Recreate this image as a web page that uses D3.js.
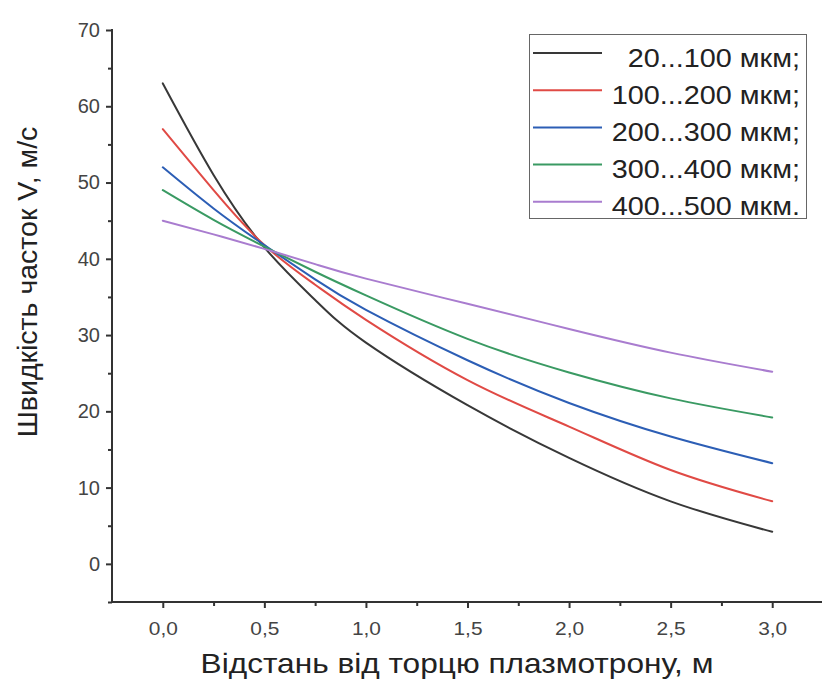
<!DOCTYPE html>
<html>
<head>
<meta charset="utf-8">
<script src="https://cdn.jsdelivr.net/npm/d3@7"></script>
<style>
  html, body { margin: 0; padding: 0; background: #fff; }
  svg { display: block; font-family: "Liberation Sans", Arial, sans-serif; }
</style>
</head>
<body>
<svg id="chart" width="822" height="682"></svg>
<script>
// Distance from the plasmatron nozzle, m
const distance = [0, 0.25, 0.5, 0.75, 1.0, 1.5, 2.0, 2.5, 3.0];

// Particle velocity (m/s) for each particle size fraction
const v20_100   = [63, 51, 41.5, 34.6, 29.0, 20.8, 13.9, 8.2, 4.2];
const v100_200  = [57, 49, 41.8, 36.6, 32.0, 24.1, 18.0, 12.3, 8.2];
const v200_300  = [52, 46.6, 41.8, 37.3, 33.3, 26.7, 21.1, 16.7, 13.2];
const v300_400  = [49, 45.1, 41.6, 38.3, 35.2, 29.5, 25.1, 21.7, 19.2];
const v400_500  = [45, 43.2, 41.3, 39.3, 37.4, 34.1, 30.8, 27.7, 25.2];

const seriesNames = ["20...100 мкм;", "100...200 мкм;", "200...300 мкм;", "300...400 мкм;", "400...500 мкм."];
const seriesValues = [v20_100, v100_200, v200_300, v300_400, v400_500];
const seriesColors = ["#383838", "#e04a45", "#2c5eb5", "#3a9a63", "#a97ccf"];

const xTicks = [0, 0.5, 1.0, 1.5, 2.0, 2.5, 3.0];
const yTicks = [0, 10, 20, 30, 40, 50, 60, 70];
const xTitle = "Відстань від торцю плазмотрону, м";
const yTitle = "Швидкість часток V, м/с";

const svg = d3.select("#chart");

const x = d3.scaleLinear().domain([-0.25, 3.25]).range([112, 823]);
const y = d3.scaleLinear().domain([-5, 70]).range([602, 30]);

const axisColor = "#333";
const labelFont = "'Liberation Sans', Arial, sans-serif";
const fmt = d => d3.format(".1f")(d).replace(".", ",");

// Curves
const line = d3.line()
  .x((d, i) => x(distance[i]))
  .y(d => y(d))
  .curve(d3.curveNatural);

svg.append("g").selectAll("path")
  .data(seriesValues)
  .join("path")
  .attr("d", d => line(d))
  .attr("fill", "none")
  .attr("stroke", (d, i) => seriesColors[i])
  .attr("stroke-width", 2)
  .attr("stroke-linejoin", "round")
  .attr("stroke-linecap", "round");

// Y axis: major ticks every 10, minor every 5
const yAxis = svg.append("g").attr("transform", `translate(${x(-0.25)},0)`);
yAxis.call(d3.axisLeft(y).tickValues(yTicks).tickSize(6).tickPadding(6).tickFormat(d3.format("d")));
yAxis.append("g").call(d3.axisLeft(y).tickValues(d3.range(-5, 70, 10)).tickSize(4).tickFormat(""));
yAxis.selectAll("path.domain").remove();
yAxis.selectAll("line").attr("stroke", axisColor).attr("stroke-width", 2);
yAxis.selectAll("text").attr("fill", "#444").style("font-size", "20px").style("font-family", labelFont);
svg.append("line")
  .attr("x1", x(-0.25)).attr("x2", x(-0.25))
  .attr("y1", y(70) - 1).attr("y2", y(-5))
  .attr("stroke", axisColor).attr("stroke-width", 2);

// X axis: major ticks every 0.5, minor every 0.25
const xAxis = svg.append("g").attr("transform", `translate(0,${y(-5)})`);
xAxis.call(d3.axisBottom(x).tickValues(xTicks).tickSize(6).tickPadding(14).tickFormat(fmt));
xAxis.append("g").call(d3.axisBottom(x).tickValues(d3.range(0.25, 3.25, 0.5)).tickSize(4).tickFormat(""));
xAxis.selectAll("path.domain").remove();
xAxis.selectAll("line").attr("stroke", axisColor).attr("stroke-width", 2);
xAxis.selectAll("text")
  .attr("fill", "#444")
  .attr("transform", "scale(1.1,1)")
  .style("font-size", "19px").style("font-family", labelFont);
svg.append("line")
  .attr("x1", x(-0.25) - 1).attr("x2", x(3.25))
  .attr("y1", y(-5)).attr("y2", y(-5))
  .attr("stroke", axisColor).attr("stroke-width", 2);

// Axis titles
svg.append("text")
  .attr("transform", "translate(457,673) scale(1.13,1)")
  .attr("text-anchor", "middle")
  .attr("fill", "#222")
  .style("font-size", "28px")
  .text(xTitle);

svg.append("text")
  .attr("transform", "translate(37,282) rotate(-90)")
  .attr("text-anchor", "middle")
  .attr("fill", "#222")
  .style("font-size", "28.5px")
  .text(yTitle);

// Legend
const legend = svg.append("g");
legend.append("rect")
  .attr("x", 529.5).attr("y", 34.5)
  .attr("width", 277).attr("height", 184)
  .attr("fill", "#fff")
  .attr("stroke", "#666").attr("stroke-width", 1);

const rows = legend.selectAll("g.row")
  .data(seriesNames)
  .join("g")
  .attr("class", "row")
  .attr("transform", (d, i) => `translate(0,${53 + i * 37.2})`);
rows.append("line")
  .attr("x1", 533).attr("x2", 602)
  .attr("stroke", (d, i) => seriesColors[i])
  .attr("stroke-width", 2);
rows.append("text")
  .attr("transform", "translate(800,13.5) scale(1.13,1)")
  .attr("text-anchor", "end")
  .attr("fill", "#222")
  .style("font-size", "25.5px")
  .text(d => d);
</script>
</body>
</html>
